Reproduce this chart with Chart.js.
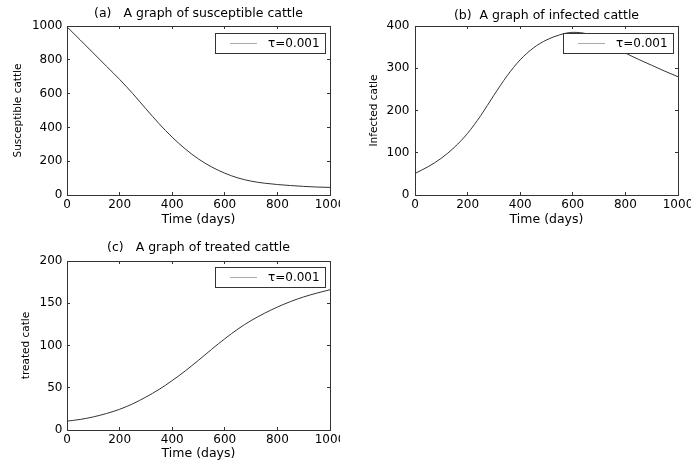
<!DOCTYPE html>
<html>
<head>
<meta charset="utf-8">
<script src="https://cdn.jsdelivr.net/npm/chart.js@4.4.0/dist/chart.umd.min.js"></script>
<style>
  body { margin: 0; background: #fff; }
  .panel { position: absolute; }
</style>
</head>
<body>
<div class="panel" style="left:0;top:0;width:340px;height:230px"><canvas id="chartA"></canvas></div>
<div class="panel" style="left:340px;top:0;width:351px;height:230px"><canvas id="chartB"></canvas></div>
<div class="panel" style="left:0;top:230px;width:340px;height:236px"><canvas id="chartC"></canvas></div>
<script>
const days = [0, 50, 100, 150, 200, 250, 300, 350, 400, 450, 500, 550, 600, 650, 700, 750, 800, 850, 900, 950, 1000];
const susceptible = [995, 918, 840, 762, 684, 600, 510, 422, 342, 272, 213, 166, 129, 101, 82, 70, 62, 56, 51, 47, 45];
const infected = [51, 67, 87, 113, 146, 188, 236, 282, 320, 348, 367, 379, 385, 382, 370, 353, 336, 321, 307, 293, 280];
const treated = [10.5, 12.5, 15.5, 19.5, 24.5, 31, 39, 48, 58.5, 70, 82.5, 95.5, 108, 119.5, 129.5, 138, 145.5, 152, 157.5, 162, 166];
const seriesLabel = 'τ=0.001';

const FONT = '"DejaVu Sans", sans-serif';
const INK = '#333';

// legend box drawn over the curve, like the original
const boxLegend = {
    id: 'boxLegend',
    afterDatasetsDraw(chart, args, opts) {
        const { ctx, chartArea } = chart;
        const w = 110, h = 20;
        const x = Math.round(chartArea.right - opts.right - w);
        const y = Math.round(chartArea.top + opts.top);
        ctx.save();
        ctx.fillStyle = '#fff';
        ctx.fillRect(x, y, w, h);
        ctx.strokeStyle = INK;
        ctx.lineWidth = 1;
        ctx.strokeRect(x + 0.5, y + 0.5, w, h);
        ctx.strokeStyle = '#aaa';
        ctx.beginPath();
        ctx.moveTo(x + 15, y + h / 2 + 0.5);
        ctx.lineTo(x + 42, y + h / 2 + 0.5);
        ctx.stroke();
        ctx.fillStyle = '#000';
        ctx.font = '12px ' + FONT;
        ctx.textBaseline = 'middle';
        ctx.fillText(chart.data.datasets[0].label, x + 53, y + h / 2 + 1);
        ctx.restore();
    }
};

function edgeAxis(position, max, step) {
    return {
        type: 'linear',
        position: position,
        min: 0,
        max: max,
        ticks: { stepSize: step, display: false },
        grid: { drawOnChartArea: false, tickLength: -3, color: INK },
        border: { color: INK },
        afterFit: s => {
            if (position === 'top') s.height = 0; else s.width = 0;
        }
    };
}

function buildPanel(id, p) {
    new Chart(document.getElementById(id), {
        type: 'line',
        data: {
            datasets: [{
                label: seriesLabel,
                data: days.map((d, i) => ({ x: d, y: p.values[i] })),
                borderColor: '#333',
                borderWidth: 1,
                pointRadius: 0,
                cubicInterpolationMode: 'monotone',
                fill: false
            }]
        },
        options: {
            responsive: true,
            maintainAspectRatio: false,
            animation: false,
            layout: { padding: { left: 0, right: p.padRight, top: 0, bottom: 0 } },
            plugins: {
                legend: { display: false },
                tooltip: { enabled: false },
                title: {
                    display: true,
                    text: p.title,
                    fullSize: false,
                    color: '#000',
                    font: { family: FONT, size: 12.5, weight: 'normal' },
                    padding: { top: p.titleTop, bottom: p.titleBottom }
                },
                boxLegend: { right: 5.5, top: p.legendTop }
            },
            scales: {
                x: {
                    type: 'linear',
                    position: 'bottom',
                    min: 0,
                    max: 1000,
                    ticks: {
                        stepSize: 200,
                        maxRotation: 0,
                        autoSkip: false,
                        padding: 6,
                        color: '#000',
                        font: { family: FONT, size: 12 },
                        callback: v => String(v)
                    },
                    grid: { drawOnChartArea: false, tickLength: -3, color: INK },
                    border: { color: INK },
                    title: {
                        display: true,
                        text: 'Time (days)',
                        color: '#000',
                        font: { family: FONT, size: 12.5 },
                        padding: { top: 0, bottom: p.xTitleBottom }
                    },
                    afterFit: s => {
                        s.height = p.xHeight;
                        s.paddingLeft = 0;
                        s.paddingRight = 0;
                    }
                },
                x2: edgeAxis('top', 1000, 200),
                y: {
                    type: 'linear',
                    position: 'left',
                    min: 0,
                    max: p.yMax,
                    ticks: {
                        stepSize: p.yStep,
                        padding: p.yTickPad,
                        color: '#000',
                        font: { family: FONT, size: 12 },
                        callback: v => String(v)
                    },
                    grid: { drawOnChartArea: false, tickLength: -3, color: INK },
                    border: { color: INK },
                    title: {
                        display: true,
                        text: p.yTitle,
                        color: '#000',
                        font: { family: FONT, size: 10.5 },
                        padding: { top: p.yTitlePad, bottom: 0 }
                    },
                    afterFit: s => { s.width = p.yWidth; }
                },
                y2: edgeAxis('right', p.yMax, p.yStep)
            }
        },
        plugins: [boxLegend]
    });
}

buildPanel('chartA', {
    values: susceptible, title: '(a)   A graph of susceptible cattle', yTitle: 'Susceptible cattle',
    yMax: 1000, yStep: 200, padRight: 10, yWidth: 67, xHeight: 35,
    titleTop: 6.7, titleBottom: 4.3, yTitlePad: 12, yTickPad: 7.5, xTitleBottom: 2.5, legendTop: 6.5
});
buildPanel('chartB', {
    values: infected, title: '(b)  A graph of infected cattle', yTitle: 'Infected catle',
    yMax: 400, yStep: 100, padRight: 13, yWidth: 75, xHeight: 35,
    titleTop: 8, titleBottom: 3, yTitlePad: 27.7, yTickPad: 8.5, xTitleBottom: 2.5, legendTop: 6.5
});
buildPanel('chartC', {
    values: treated, title: '(c)   A graph of treated cattle', yTitle: 'treated catle',
    yMax: 200, yStep: 50, padRight: 10, yWidth: 67, xHeight: 36,
    titleTop: 10, titleBottom: 6, yTitlePad: 20.4, yTickPad: 7.5, xTitleBottom: 4.5, legendTop: 6
});
</script>
</body>
</html>
